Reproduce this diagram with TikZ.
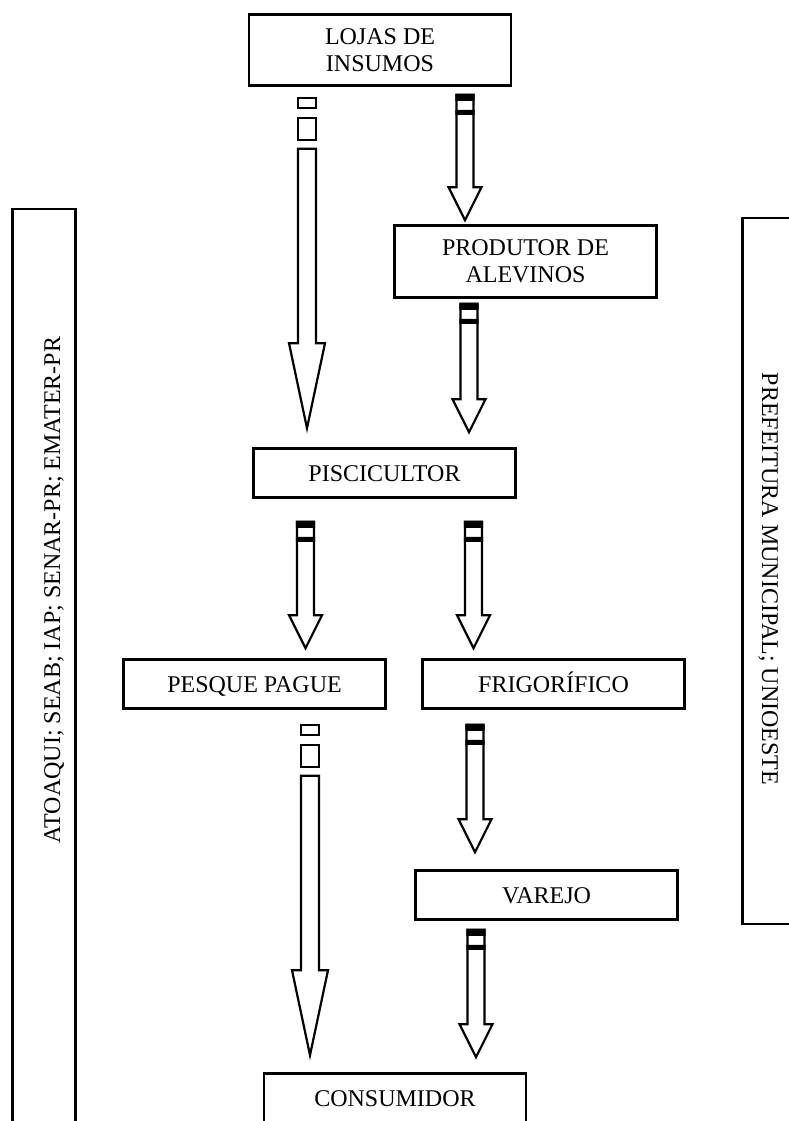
\documentclass[tikz,border=0pt]{standalone}
\usepackage{fontspec}
\setmainfont{Liberation Serif}
\usetikzlibrary{calc}
% striped hollow arrow: x, from, to, top gap, bottom gap
\newcommand\bararrow[5]{%
  \draw[arrowline] let \p1=(#2), \p2=(#3) in
    ({#1pt-8.5pt},{\y1-#4pt}) -- ({#1pt+8.5pt},{\y1-#4pt})
    -- ({#1pt+8.5pt},{\y2+#5pt+33pt}) -- ({#1pt+16.5pt},{\y2+#5pt+33pt})
    -- ({#1pt},{\y2+#5pt}) -- ({#1pt-16.5pt},{\y2+#5pt+33pt})
    -- ({#1pt-8.5pt},{\y2+#5pt+33pt}) -- cycle;
  \fill let \p1=(#2) in
    ({#1pt-9.6pt},{\y1-#4pt+1pt}) rectangle ({#1pt+9.6pt},{\y1-#4pt-6pt})
    ({#1pt-9.6pt},{\y1-#4pt-15pt}) rectangle ({#1pt+9.6pt},{\y1-#4pt-20pt});
}
% hollow arrow with broken tail
\newcommand\segarrow[5]{%
  \draw[arrowline] let \p1=(#2) in
    ({#1pt-9pt},{\y1-#4pt}) rectangle ({#1pt+9pt},{\y1-#4pt-10pt})
    ({#1pt-9pt},{\y1-#4pt-20pt}) rectangle ({#1pt+9pt},{\y1-#4pt-42pt});
  \draw[arrowline] let \p1=(#2), \p2=(#3) in
    ({#1pt-9pt},{\y1-#4pt-51pt}) -- ({#1pt+9pt},{\y1-#4pt-51pt})
    -- ({#1pt+9pt},{\y2+#5pt+85pt}) -- ({#1pt+18pt},{\y2+#5pt+85pt})
    -- ({#1pt},{\y2+#5pt}) -- ({#1pt-18pt},{\y2+#5pt+85pt})
    -- ({#1pt-9pt},{\y2+#5pt+85pt}) -- cycle;
}
\begin{document}
\begin{tikzpicture}[x=1pt,y=-1pt,
    every node/.style={font=\fontsize{24}{27}\selectfont},
    box/.style={draw,line width=2.6pt,minimum width=262pt,minimum height=49pt,align=center,inner sep=0pt},
    onebox/.style={box,text height=16pt,text depth=0pt},
    sidebox/.style={draw,line width=2.6pt,minimum width=63pt,inner sep=0pt},
    arrowline/.style={line width=2.2pt,line join=miter}]
  \useasboundingbox (0,0) rectangle (789,1121);
  \node[box,minimum height=71pt] (lojas) at (380,50) {LOJAS DE\\INSUMOS};
  \node[box,minimum height=72pt] (produtor) at (525.5,261.5) {PRODUTOR DE\\ALEVINOS};
  \node[onebox] (pisci) at (384.5,473) {PISCICULTOR};
  \node[onebox] (pesque) at (254.5,684) {PESQUE PAGUE};
  \node[onebox] (frig) at (553.5,684) {FRIGORÍFICO};
  \node[onebox] (varejo) at (546.5,895) {VAREJO};
  \node[onebox] (consumidor) at (395,1098) {CONSUMIDOR};
  \node[sidebox,minimum height=940pt] (orgs) at (44,679) {};
  \node[rotate=90,anchor=base] (orgstext) at (60,590) {ATOAQUI; SEAB; IAP; SENAR-PR; EMATER-PR};
  \node[sidebox,minimum height=706pt] (pref) at (774,571) {};
  \node[rotate=-90,anchor=base] (preftext) at (762,579) {PREFEITURA MUNICIPAL; UNIOESTE};
  \segarrow{307}{lojas.south}{pisci.north}{11}{19}
  \bararrow{465}{lojas.south}{produtor.north}{8}{4}
  \bararrow{469}{produtor.south}{pisci.north}{5}{15}
  \bararrow{305.5}{pisci.south}{pesque.north}{23}{10}
  \bararrow{473.5}{pisci.south}{frig.north}{23}{10}
  \segarrow{310}{pesque.south}{consumidor.north}{15}{17}
  \bararrow{475}{frig.south}{varejo.north}{15}{17}
  \bararrow{476}{varejo.south}{consumidor.north}{9}{15}
\end{tikzpicture}
\end{document}
